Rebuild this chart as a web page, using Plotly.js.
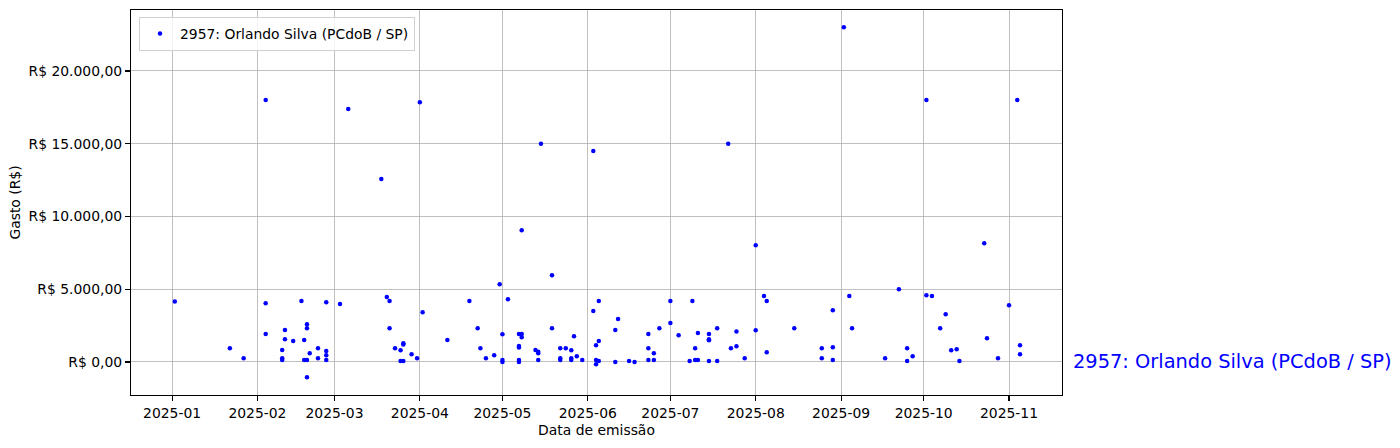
<!DOCTYPE html>
<html>
<head>
<meta charset="utf-8">
<script src="https://cdn.plot.ly/plotly-3.0.1.min.js"></script>
<style>html,body{margin:0;padding:0;background:#fff;}#chart{width:1400px;height:448px;}</style>
</head>
<body>
<div id="chart"></div>
<script>
const seriesName = "2957: Orlando Silva (PCdoB / SP)";
const dates = [
  "2025-01-02","2025-01-22","2025-01-27",
  "2025-02-04","2025-02-04","2025-02-04",
  "2025-02-10","2025-02-10","2025-02-10",
  "2025-02-11","2025-02-11","2025-02-14","2025-02-17",
  "2025-02-18","2025-02-18",
  "2025-02-19","2025-02-19","2025-02-19","2025-02-19","2025-02-20",
  "2025-02-23","2025-02-23",
  "2025-02-26","2025-02-26","2025-02-26","2025-02-26",
  "2025-03-03","2025-03-06","2025-03-18","2025-03-20",
  "2025-03-21","2025-03-21","2025-03-23",
  "2025-03-25","2025-03-25",
  "2025-03-26","2025-03-26","2025-03-26",
  "2025-03-29","2025-03-31","2025-04-01","2025-04-02",
  "2025-04-11","2025-04-19","2025-04-22","2025-04-23","2025-04-25","2025-04-28","2025-04-30",
  "2025-05-01","2025-05-01","2025-05-01","2025-05-03",
  "2025-05-07","2025-05-07","2025-05-07","2025-05-07","2025-05-07",
  "2025-05-08","2025-05-08","2025-05-08",
  "2025-05-13","2025-05-14","2025-05-14","2025-05-14","2025-05-15",
  "2025-05-19","2025-05-19",
  "2025-05-22","2025-05-22","2025-05-22","2025-05-24",
  "2025-05-26","2025-05-26","2025-05-26","2025-05-27","2025-05-28","2025-05-30",
  "2025-06-03","2025-06-03",
  "2025-06-04","2025-06-04","2025-06-04",
  "2025-06-05","2025-06-05","2025-06-05",
  "2025-06-11","2025-06-11","2025-06-12","2025-06-16","2025-06-18",
  "2025-06-23","2025-06-23","2025-06-23",
  "2025-06-25","2025-06-25","2025-06-27",
  "2025-07-01","2025-07-01","2025-07-04","2025-07-08","2025-07-09",
  "2025-07-10","2025-07-10","2025-07-11","2025-07-11",
  "2025-07-15","2025-07-15","2025-07-15","2025-07-15",
  "2025-07-18","2025-07-18","2025-07-22","2025-07-23","2025-07-25","2025-07-25","2025-07-28",
  "2025-08-01","2025-08-01","2025-08-04","2025-08-05","2025-08-05","2025-08-15",
  "2025-08-25","2025-08-25","2025-08-29","2025-08-29","2025-08-29",
  "2025-09-02","2025-09-04","2025-09-05","2025-09-17","2025-09-22",
  "2025-09-25","2025-09-25","2025-09-27",
  "2025-10-02","2025-10-02","2025-10-04","2025-10-07","2025-10-09","2025-10-11","2025-10-13","2025-10-14",
  "2025-10-23","2025-10-24","2025-10-28",
  "2025-11-01","2025-11-04","2025-11-05","2025-11-05"
];
const values = [
  4150, 940, 250,
  18000, 4030, 1920,
  820, 250, 140,
  2200, 1560, 1440, 4190,
  1510, 140,
  2600, 140, -1050, 2310, 600,
  940, 250,
  4100, 760, 460, 140,
  3990, 17390, 12580, 4470,
  4190, 2310, 940,
  800, 70,
  1280, 1200, 70,
  530, 250, 17850, 3410,
  1510, 4190, 2310, 940, 250, 460, 5340,
  1900, 140, 0, 4310,
  1920, 1100, 1000, 140, 0,
  9050, 1920, 1700,
  820, 710, 600, 140, 15000,
  5960, 2310,
  940, 140, 250, 940,
  800, 250, 140, 1770, 400, 140,
  14500, 3500,
  1150, 140, -160,
  4190, 1440, 70,
  2200, 0, 2960, 70, 0,
  1920, 140, 940,
  600, 140, 2310,
  4190, 2680, 1830, 70, 4190,
  940, 140, 1990, 140,
  1920, 1560, 1500, 70,
  2310, 70, 15000, 940, 2100, 1080, 250,
  8020, 2180, 4540, 4190, 670, 2310,
  940, 250, 3550, 1010, 140,
  23000, 4540, 2310, 250, 5000,
  940, 70, 390,
  18000, 4580, 4540, 2310, 3280, 800, 870, 70,
  8160, 1630, 250,
  3900, 18000, 1150, 530
];
const yTickVals = [0, 5000, 10000, 15000, 20000];
const yTickText = ["R$ 0,00", "R$ 5.000,00", "R$ 10.000,00", "R$ 15.000,00", "R$ 20.000,00"];
const xTickVals = ["2025-01-01","2025-02-01","2025-03-01","2025-04-01","2025-05-01","2025-06-01","2025-07-01","2025-08-01","2025-09-01","2025-10-01","2025-11-01"];
const xTickText = ["2025-01","2025-02","2025-03","2025-04","2025-05","2025-06","2025-07","2025-08","2025-09","2025-10","2025-11"];

const FONT = "DejaVu Sans, sans-serif";
const trace = {
  type: "scatter",
  mode: "markers",
  x: dates,
  y: values,
  name: seriesName,
  marker: {color: "#0000ff", size: 4.5, line: {width: 0}},
  showlegend: true
};

const axisCommon = {
  showline: true, mirror: true, linecolor: "#000", linewidth: 1.1,
  ticks: "outside", ticklen: 5, tickwidth: 1.1, tickcolor: "#000",
  showgrid: true, gridcolor: "#b0b0b0", gridwidth: 0.8,
  zeroline: false,
  tickfont: {family: FONT, size: 13.9, color: "#000"}
};

const layout = {
  width: 1400, height: 448,
  margin: {l: 131, r: 338, t: 10, b: 53},
  paper_bgcolor: "#fff", plot_bgcolor: "#fff",
  font: {family: FONT, size: 13.9, color: "#000"},
  xaxis: Object.assign({}, axisCommon, {
    type: "date",
    range: ["2024-12-17 02:00", "2025-11-20 06:00"],
    tickmode: "array", tickvals: xTickVals, ticktext: xTickText,
    title: {text: "Data de emissão", font: {family: FONT, size: 13.9, color: "#000"}, standoff: 5}
  }),
  yaxis: Object.assign({}, axisCommon, {
    range: [-2270, 24190],
    tickmode: "array", tickvals: yTickVals, ticktext: yTickText,
    title: {text: "Gasto (R$)", font: {family: FONT, size: 13.9, color: "#000"}, standoff: 4}
  }),
  legend: {
    x: 0.0086, y: 0.982, xanchor: "left", yanchor: "top",
    bgcolor: "rgba(255,255,255,0.8)", bordercolor: "#d0d0d0", borderwidth: 1,
    font: {family: FONT, size: 13.9, color: "#000"}
  },
  annotations: [{
    xref: "paper", yref: "y", x: 1.0097, y: 0,
    xanchor: "left", yanchor: "middle",
    text: seriesName, showarrow: false,
    font: {family: FONT, size: 19.4, color: "#0000ff"}
  }]
};

Plotly.newPlot("chart", [trace], layout, {displayModeBar: false, staticPlot: true});
</script>
</body>
</html>
